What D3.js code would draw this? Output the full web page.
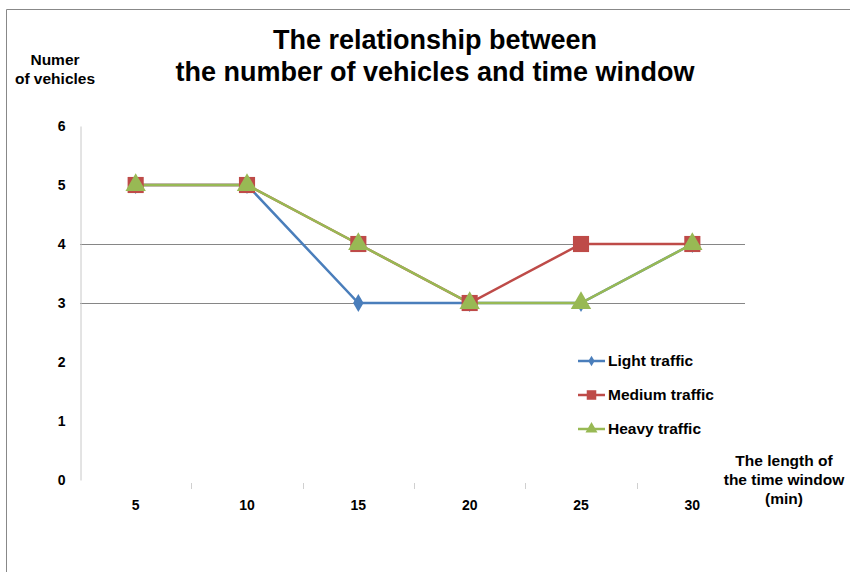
<!DOCTYPE html>
<html>
<head>
<meta charset="utf-8">
<script src="https://cdn.jsdelivr.net/npm/d3@7"></script>
<style>
  body { margin: 0; background: #fff; }
  text { font-family: "Liberation Sans", Arial, sans-serif; font-weight: bold; fill: #000; }
</style>
</head>
<body>
<svg id="chart" width="850" height="572"></svg>
<script>
// data
const windows = ['5', '10', '15', '20', '25', '30'];
const lightTraffic = [5, 5, 3, 3, 3, 4];
const mediumTraffic = [5, 5, 4, 3, 4, 4];
const heavyTraffic = [5, 5, 4, 3, 3, 4];
const yTicks = [0, 1, 2, 3, 4, 5, 6];
const gridValues = [3, 4];
const seriesNames = ['Light traffic', 'Medium traffic', 'Heavy traffic'];

const series = [
  { name: seriesNames[0], values: lightTraffic, color: '#4A7EBB', symbol: d3.symbolDiamond, size: 95 },
  { name: seriesNames[1], values: mediumTraffic, color: '#BE4B48', symbol: d3.symbolSquare, size: 260 },
  { name: seriesNames[2], values: heavyTraffic, color: '#98B954', symbol: d3.symbolTriangle, size: 180 }
];

const svg = d3.select('#chart');

// outer frame (only top and left are visible in the crop)
svg.append('line').attr('x1', 6.5).attr('x2', 850).attr('y1', 9.5).attr('y2', 9.5)
  .attr('stroke', '#888').attr('stroke-width', 1);
svg.append('line').attr('x1', 6.5).attr('x2', 6.5).attr('y1', 9.5).attr('y2', 572)
  .attr('stroke', '#888').attr('stroke-width', 1);

const x = d3.scaleBand().domain(windows).range([80, 748]);
const y = d3.scaleLinear().domain([0, 6]).range([480, 126]);

// gridlines
svg.append('g').selectAll('line')
  .data(gridValues)
  .join('line')
  .attr('x1', 80).attr('x2', 745)
  .attr('y1', d => Math.round(y(d)) + 0.5).attr('y2', d => Math.round(y(d)) + 0.5)
  .attr('stroke', '#868686').attr('stroke-width', 1);

// y axis
const yAxis = svg.append('g')
  .attr('transform', 'translate(80.5,0)')
  .call(d3.axisLeft(y).tickValues(yTicks).tickFormat(d3.format('d')).tickSize(0).tickPadding(15));
yAxis.select('.domain').attr('stroke', '#c8c8c8');
yAxis.selectAll('text').attr('font-size', 14).attr('font-family', null).attr('dy', '0.35em');

// x axis ticks between categories
const xAxis = svg.append('g')
  .attr('transform', 'translate(0,480)')
  .call(d3.axisBottom(x).tickSize(0).tickPadding(20));
xAxis.select('.domain').remove();
xAxis.selectAll('text').attr('font-size', 14).attr('font-family', null);
svg.append('g').selectAll('line')
  .data(windows.slice(1))
  .join('line')
  .attr('x1', d => Math.round(x(d)) + 0.5).attr('x2', d => Math.round(x(d)) + 0.5)
  .attr('y1', 483).attr('y2', 489)
  .attr('stroke', '#d0d0d0');

// lines and markers
const line = d3.line()
  .x((d, i) => x(windows[i]) + x.bandwidth() / 2)
  .y(d => y(d));

series.forEach(s => {
  svg.append('path')
    .datum(s.values)
    .attr('d', line)
    .attr('fill', 'none')
    .attr('stroke', s.color)
    .attr('stroke-width', 2.5);
});
series.forEach(s => {
  svg.append('g').selectAll('path')
    .data(s.values)
    .join('path')
    .attr('transform', (d, i) => `translate(${x(windows[i]) + x.bandwidth() / 2},${y(d)})`)
    .attr('d', d3.symbol().type(s.symbol).size(s.size))
    .attr('fill', s.color);
});

// title
svg.append('text')
  .attr('text-anchor', 'middle').attr('font-size', 27)
  .selectAll('tspan')
  .data(['The relationship between', 'the number of vehicles and time window'])
  .join('tspan')
  .attr('x', 435)
  .attr('y', (d, i) => 49 + i * 32)
  .text(d => d);

// y axis title
svg.append('text')
  .attr('text-anchor', 'middle').attr('font-size', 15.5)
  .selectAll('tspan')
  .data(['Numer', 'of vehicles'])
  .join('tspan')
  .attr('x', 55)
  .attr('y', (d, i) => 65 + i * 19)
  .text(d => d);

// x axis title
svg.append('text')
  .attr('text-anchor', 'middle').attr('font-size', 15.5)
  .selectAll('tspan')
  .data(['The length of', 'the time window', '(min)'])
  .join('tspan')
  .attr('x', 784)
  .attr('y', (d, i) => 466 + i * 19)
  .text(d => d);

// legend
const legend = svg.append('g').selectAll('g')
  .data(series)
  .join('g')
  .attr('transform', (d, i) => `translate(578,${361 + i * 34})`);
legend.append('line')
  .attr('x1', 0).attr('x2', 27)
  .attr('stroke', d => d.color).attr('stroke-width', 2.5);
legend.append('path')
  .attr('transform', 'translate(13.5,0)')
  .attr('d', d => d3.symbol().type(d.symbol).size(d.size * 0.35)())
  .attr('fill', d => d.color);
legend.append('text')
  .attr('x', 30).attr('dy', '0.35em').attr('font-size', 15.5)
  .text(d => d.name);
</script>
</body>
</html>
